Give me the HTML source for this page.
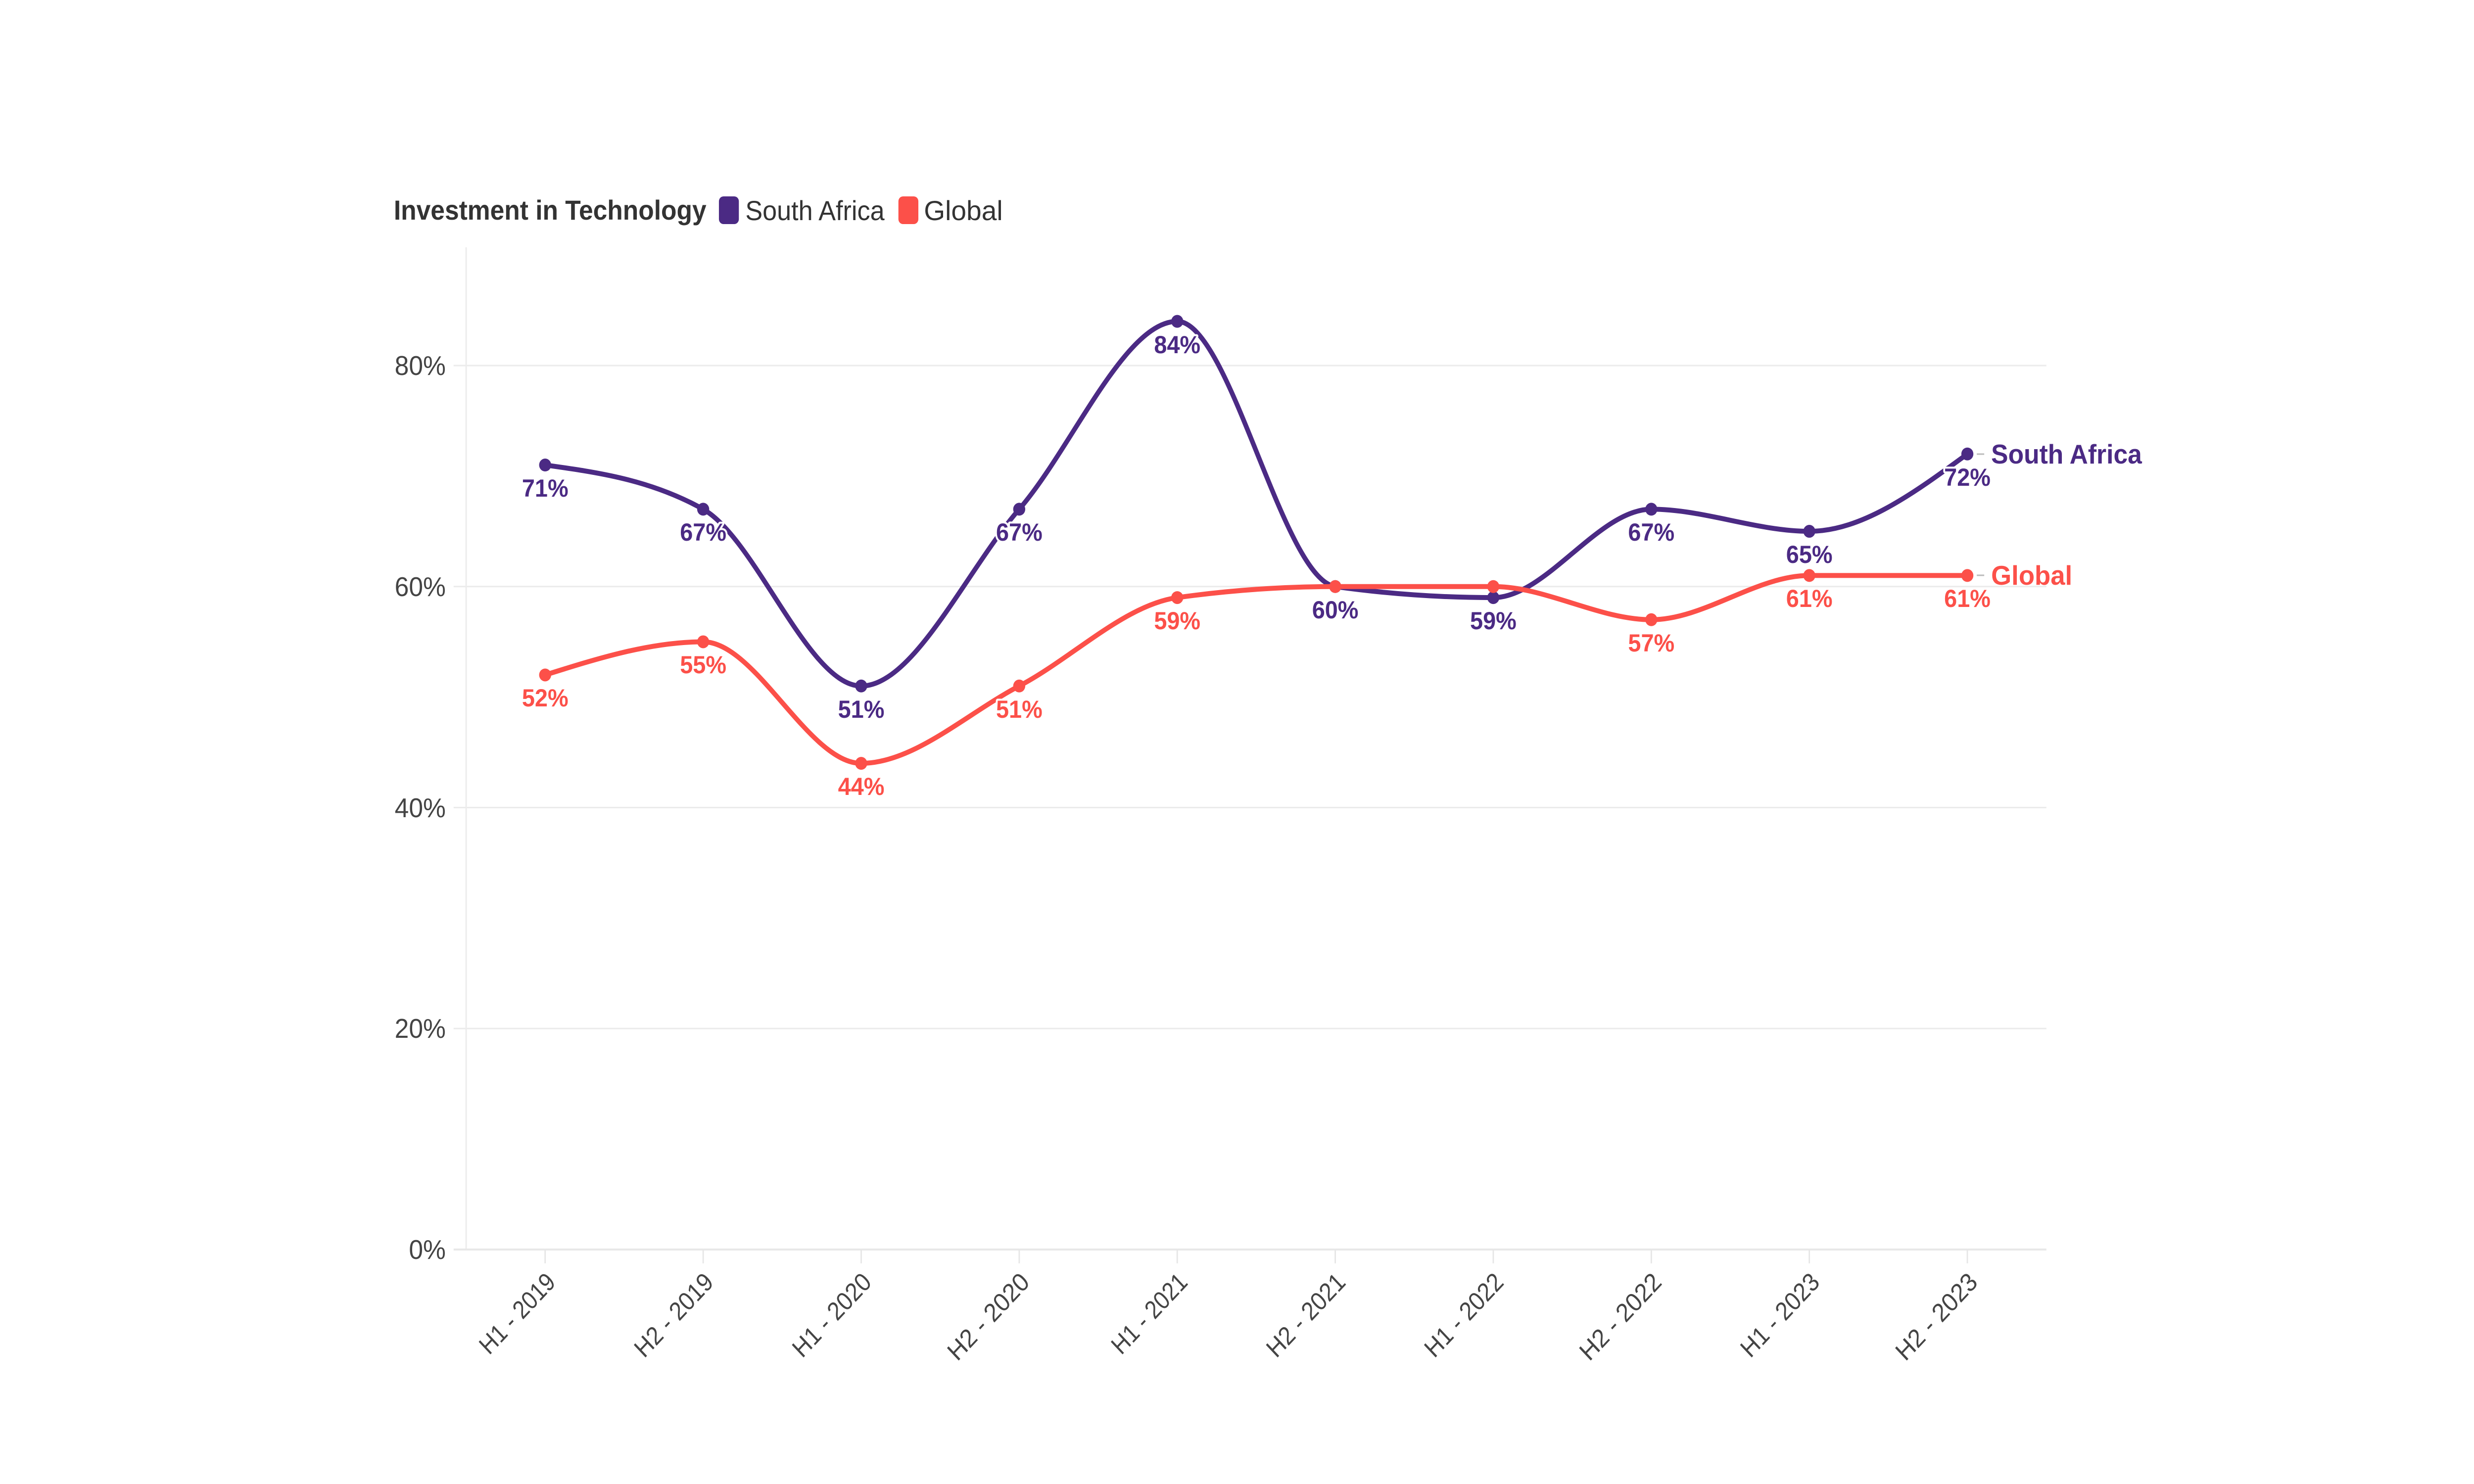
<!DOCTYPE html>
<html>
<head>
<meta charset="utf-8">
<meta name="viewport" content="width=5334, initial-scale=1">
<style>
  html, body { margin: 0; padding: 0; background: #ffffff; width: 100%; height: 100%; overflow: hidden; }
  svg { display: block; position: absolute; left: 0; top: 0; width: 100vw; height: 100vh; }
  text { font-family: "Liberation Sans", Arial, sans-serif; }
</style>
</head>
<body>
<svg viewBox="0 0 5334 3000" preserveAspectRatio="none" xmlns="http://www.w3.org/2000/svg">
  <rect x="0" y="0" width="5334" height="3000" fill="#ffffff"/>

  <!-- Title + legend -->
  <text x="849" y="444" font-size="56" font-weight="bold" fill="#333333" textLength="674" lengthAdjust="spacingAndGlyphs">Investment in Technology</text>
  <rect x="1550" y="397" width="43" height="56" rx="10" ry="10" fill="#4b2a84"/>
  <text x="1607" y="445" font-size="56" fill="#333333" textLength="300" lengthAdjust="spacingAndGlyphs">South Africa</text>
  <rect x="1937" y="397" width="43" height="56" rx="10" ry="10" fill="#fc5049"/>
  <text x="1992" y="445" font-size="56" fill="#333333" textLength="170" lengthAdjust="spacingAndGlyphs">Global</text>

  <!-- Gridlines -->
  <g stroke="#ebebeb" stroke-width="3" fill="none">
    <line x1="978" y1="739" x2="4412" y2="739"/>
    <line x1="978" y1="1185.75" x2="4412" y2="1185.75"/>
    <line x1="978" y1="1632.5" x2="4412" y2="1632.5"/>
    <line x1="978" y1="2079.25" x2="4412" y2="2079.25"/>
  </g>
  <!-- Y axis line -->
  <line x1="1005" y1="500" x2="1005" y2="2526" stroke="#ececec" stroke-width="3"/>
  <!-- Baseline -->
  <line x1="978" y1="2526" x2="4412" y2="2526" stroke="#e8e8e8" stroke-width="4"/>
  <!-- X ticks -->
  <g stroke="#e6e6e6" stroke-width="3">
    <line x1="1175.35" y1="2526" x2="1175.35" y2="2554"/>
    <line x1="1516.05" y1="2526" x2="1516.05" y2="2554"/>
    <line x1="1856.75" y1="2526" x2="1856.75" y2="2554"/>
    <line x1="2197.45" y1="2526" x2="2197.45" y2="2554"/>
    <line x1="2538.15" y1="2526" x2="2538.15" y2="2554"/>
    <line x1="2878.85" y1="2526" x2="2878.85" y2="2554"/>
    <line x1="3219.55" y1="2526" x2="3219.55" y2="2554"/>
    <line x1="3560.25" y1="2526" x2="3560.25" y2="2554"/>
    <line x1="3900.95" y1="2526" x2="3900.95" y2="2554"/>
    <line x1="4241.65" y1="2526" x2="4241.65" y2="2554"/>
  </g>

  <!-- Y labels -->
  <g font-size="55" fill="#444444" text-anchor="end">
    <text x="961" y="758">80%</text>
    <text x="961" y="1205">60%</text>
    <text x="961" y="1652">40%</text>
    <text x="961" y="2098">20%</text>
    <text x="961" y="2545">0%</text>
  </g>

  <!-- X labels -->
  <g font-size="52" fill="#444444" text-anchor="end">
    <text transform="translate(1200.35,2595) rotate(-45)" textLength="206" lengthAdjust="spacingAndGlyphs">H1 - 2019</text>
    <text transform="translate(1541.05,2595) rotate(-45)" textLength="215" lengthAdjust="spacingAndGlyphs">H2 - 2019</text>
    <text transform="translate(1881.75,2595) rotate(-45)" textLength="215" lengthAdjust="spacingAndGlyphs">H1 - 2020</text>
    <text transform="translate(2222.45,2595) rotate(-45)" textLength="224" lengthAdjust="spacingAndGlyphs">H2 - 2020</text>
    <text transform="translate(2563.15,2595) rotate(-45)" textLength="206" lengthAdjust="spacingAndGlyphs">H1 - 2021</text>
    <text transform="translate(2903.85,2595) rotate(-45)" textLength="215" lengthAdjust="spacingAndGlyphs">H2 - 2021</text>
    <text transform="translate(3244.55,2595) rotate(-45)" textLength="215" lengthAdjust="spacingAndGlyphs">H1 - 2022</text>
    <text transform="translate(3585.25,2595) rotate(-45)" textLength="224" lengthAdjust="spacingAndGlyphs">H2 - 2022</text>
    <text transform="translate(3925.95,2595) rotate(-45)" textLength="215" lengthAdjust="spacingAndGlyphs">H1 - 2023</text>
    <text transform="translate(4266.65,2595) rotate(-45)" textLength="224" lengthAdjust="spacingAndGlyphs">H2 - 2023</text>
  </g>

  <!-- South Africa line -->
  <path fill="none" stroke="#4b2a84" stroke-width="10" stroke-linejoin="round" stroke-linecap="round"
    d="M1175.35,940.04
       C1288.92,954.94 1402.48,969.82 1516.05,1029.39
       C1629.62,1088.95 1743.18,1386.79 1856.75,1386.79
       C1970.32,1386.79 2083.88,1152.24 2197.45,1029.39
       C2311.02,906.53 2424.58,649.65 2538.15,649.65
       C2651.72,649.65 2765.28,1170.85 2878.85,1185.75
       C2992.42,1200.64 3105.98,1208.09 3219.55,1208.09
       C3333.12,1208.09 3446.68,1029.39 3560.25,1029.39
       C3673.82,1029.39 3787.38,1074.06 3900.95,1074.06
       C4014.52,1074.06 4128.08,995.88 4241.65,917.70"/>
  <g fill="#4b2a84">
    <circle cx="1175.35" cy="940.04" r="13"/>
    <circle cx="1516.05" cy="1029.39" r="13"/>
    <circle cx="1856.75" cy="1386.79" r="13"/>
    <circle cx="2197.45" cy="1029.39" r="13"/>
    <circle cx="2538.15" cy="649.65" r="13"/>
    <circle cx="2878.85" cy="1185.75" r="13"/>
    <circle cx="3219.55" cy="1208.09" r="13"/>
    <circle cx="3560.25" cy="1029.39" r="13"/>
    <circle cx="3900.95" cy="1074.06" r="13"/>
    <circle cx="4241.65" cy="917.70" r="13"/>
  </g>

  <!-- Global line -->
  <path fill="none" stroke="#fc5049" stroke-width="10" stroke-linejoin="round" stroke-linecap="round"
    d="M1175.35,1364.45
       C1288.92,1330.94 1402.48,1297.44 1516.05,1297.44
       C1629.62,1297.44 1743.18,1543.15 1856.75,1543.15
       C1970.32,1543.15 2083.88,1442.63 2197.45,1386.79
       C2311.02,1330.94 2424.58,1222.98 2538.15,1208.09
       C2651.72,1193.19 2765.28,1185.75 2878.85,1185.75
       C2992.42,1185.75 3105.98,1185.75 3219.55,1185.75
       C3333.12,1185.75 3446.68,1252.76 3560.25,1252.76
       C3673.82,1252.76 3787.38,1163.41 3900.95,1163.41
       C4014.52,1163.41 4128.08,1163.41 4241.65,1163.41"/>
  <g fill="#fc5049">
    <circle cx="1175.35" cy="1364.45" r="13"/>
    <circle cx="1516.05" cy="1297.44" r="13"/>
    <circle cx="1856.75" cy="1543.15" r="13"/>
    <circle cx="2197.45" cy="1386.79" r="13"/>
    <circle cx="2538.15" cy="1208.09" r="13"/>
    <circle cx="2878.85" cy="1185.75" r="13"/>
    <circle cx="3219.55" cy="1185.75" r="13"/>
    <circle cx="3560.25" cy="1252.76" r="13"/>
    <circle cx="3900.95" cy="1163.41" r="13"/>
    <circle cx="4241.65" cy="1163.41" r="13"/>
  </g>

  <!-- Line end labels -->
  <line x1="4262" y1="918" x2="4278" y2="918" stroke="#bbbbbb" stroke-width="3"/>
  <text x="4293" y="937" font-size="55" font-weight="bold" fill="#4b2a84" textLength="325" lengthAdjust="spacingAndGlyphs">South Africa</text>
  <line x1="4262" y1="1163" x2="4278" y2="1163" stroke="#bbbbbb" stroke-width="3"/>
  <text x="4293" y="1182" font-size="55" font-weight="bold" fill="#fc5049" textLength="175" lengthAdjust="spacingAndGlyphs">Global</text>

  <!-- Data labels: South Africa -->
  <g font-size="50" font-weight="bold" fill="#4b2a84" text-anchor="middle" stroke="#ffffff" stroke-width="8" stroke-linejoin="round" paint-order="stroke">
    <text x="1175.35" y="1004">71%</text>
    <text x="1516.05" y="1093">67%</text>
    <text x="1856.75" y="1451">51%</text>
    <text x="2197.45" y="1093">67%</text>
    <text x="2538.15" y="714">84%</text>
    <text x="2878.85" y="1250">60%</text>
    <text x="3219.55" y="1272">59%</text>
    <text x="3560.25" y="1093">67%</text>
    <text x="3900.95" y="1138">65%</text>
    <text x="4241.65" y="982">72%</text>
  </g>

  <!-- Data labels: Global -->
  <g font-size="50" font-weight="bold" fill="#fc5049" text-anchor="middle" stroke="#ffffff" stroke-width="8" stroke-linejoin="round" paint-order="stroke">
    <text x="1175.35" y="1428">52%</text>
    <text x="1516.05" y="1361">55%</text>
    <text x="1856.75" y="1607">44%</text>
    <text x="2197.45" y="1451">51%</text>
    <text x="2538.15" y="1272">59%</text>
    <text x="3560.25" y="1317">57%</text>
    <text x="3900.95" y="1227">61%</text>
    <text x="4241.65" y="1227">61%</text>
  </g>
</svg>
</body>
</html>
